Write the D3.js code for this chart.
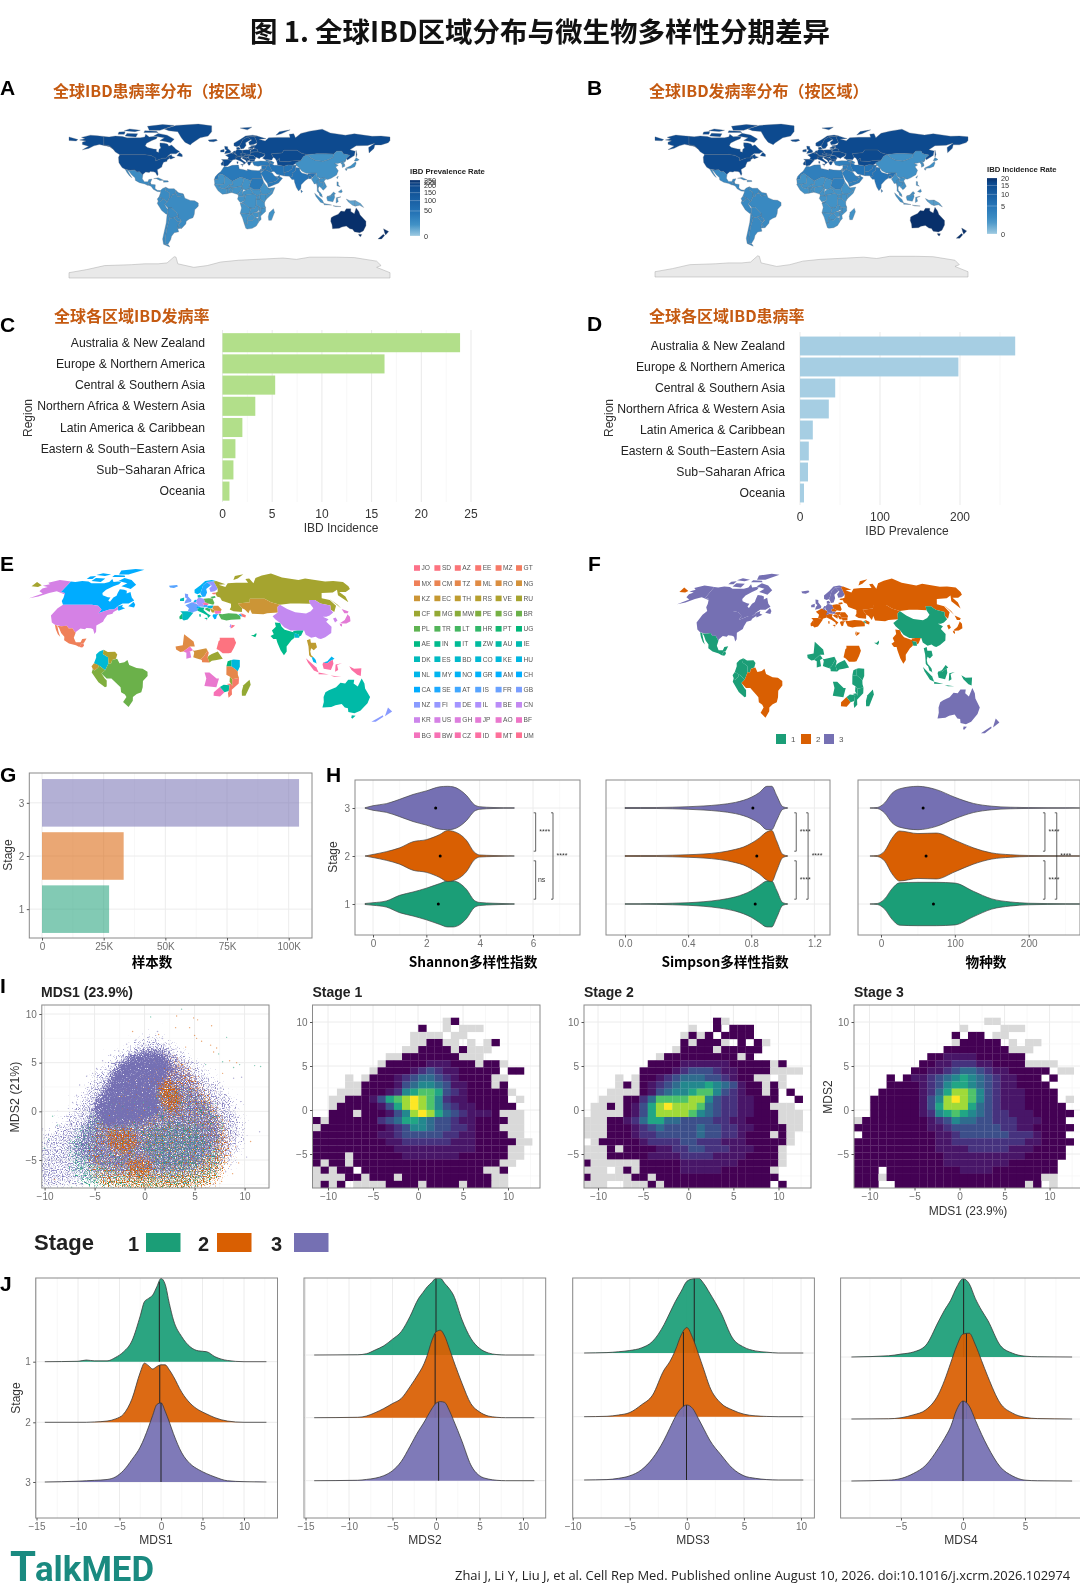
<!DOCTYPE html>
<html>
<head>
<meta charset="utf-8">
<script src="https://cdn.jsdelivr.net/npm/d3@7"></script>
<style>
  body { margin: 0; background: #fff; }
  text { font-family: "Liberation Sans", Arial, "Noto Sans CJK SC", sans-serif; }
</style>
</head>
<body>
<script>
// ---------- values ----------
var regionNames = ["Australia & New Zealand", "Europe & Northern America", "Central & Southern Asia",
  "Northern Africa & Western Asia", "Latin America & Caribbean", "Eastern & South\u2212Eastern Asia",
  "Sub\u2212Saharan Africa", "Oceania"];
var incidence = [23.9, 16.3, 5.3, 3.3, 2.0, 1.3, 1.1, 0.7];
var prevalence = [269, 198, 44, 36, 16, 11, 10, 5];
var prevalenceTicks = [0, 50, 100, 150, 200, 225, 250];
var incidenceTicks = [0, 5, 10, 15, 20];

var stageNames = ["1", "2", "3"];
var stageColors = ["#1b9e77", "#d95f02", "#7570b3"];
var sampleCounts = [27200, 33100, 104200];

// country outlines, [code, region index, [lon, lat]...]
var northAmerica = [
  ["CA",1,[[-141,69.6],[-135,69],[-128,70],[-120,69.5],[-115,68],[-108,68],[-100,68],[-95,69],[-94,72],[-90,69],[-85,69.5],[-81,69],[-82,67],[-87,65],[-93,62],[-94.5,59],[-92,57],[-85,55.3],[-82,55],[-82,52.5],[-79.5,51.5],[-79,55],[-77,56.5],[-78,59],[-78,62.3],[-73,62],[-69.5,61],[-68,58.5],[-65,60],[-62,57],[-60,55],[-56,52.5],[-60,50],[-66,50],[-70,47],[-65,49],[-64.5,47],[-61,46],[-66,44],[-67,45],[-69,47.3],[-71,45],[-75,45],[-79,43.5],[-83,42],[-82.5,45],[-88,48],[-95,49],[-123,49],[-128,52],[-130,54.7],[-135,59],[-141,60]]],
  ["CA",1,[[-80,73],[-70,71],[-62,66.5],[-66,62.5],[-72,64],[-78,65],[-73,68],[-85,70]]],
  ["CA",1,[[-117,70],[-105,69],[-103,72.5],[-115,73]]],
  ["CA",1,[[-90,76.5],[-78,76.5],[-62,82],[-75,83],[-92,81]]],
  ["CA",1,[[-125,72],[-118,72],[-117,75],[-124,74.5]]],
  ["CA",1,[[-96,74],[-80,74],[-82,75.5],[-95,76]]],
  ["CA",1,[[-118,76],[-106,75],[-100,76.5],[-112,78]]],
  ["CA",1,[[-59,47.7],[-53,46.7],[-53,49],[-56,51.5]]],
  ["US",1,[[-123,49],[-95,49],[-88,48],[-84,46],[-82.5,45],[-83,42],[-79,43.5],[-75,45],[-71,45],[-69,47.3],[-67,45],[-70,43],[-70,41.5],[-74,40.5],[-75.5,37],[-76,35],[-81,32],[-80,27],[-81,25.2],[-83,29],[-85,29.7],[-89,30],[-90,29],[-94,29.5],[-97,27],[-97.2,25.9],[-101,29.7],[-104,29.5],[-106.5,31.8],[-111,31.3],[-117,32.5],[-120.5,34.5],[-124,40],[-124.5,46]]],
  ["US",1,[[-141,69.6],[-141,60],[-135,59],[-130,55],[-134,58],[-146,60.5],[-152,59],[-158,56],[-165,54.5],[-158,58.5],[-165,60.5],[-165,63],[-161,64.5],[-168,65.5],[-162,67],[-166,68.5],[-156,71],[-148,70.3]]],
  ["GL",1,[[-73,78],[-60,82],[-35,83.5],[-20,81.5],[-20,75],[-24,70],[-33,68],[-42,62],[-44,60],[-50,63],[-54,68],[-58,75],[-68,76]]],
  ["MX",4,[[-114.7,31.7],[-111,31.3],[-106.5,31.8],[-104,29.5],[-101,29.7],[-97.2,25.9],[-97.8,22],[-95.5,18.5],[-91.5,18.5],[-90.5,21],[-87,21.5],[-88.5,18],[-90.5,17.5],[-92,14.6],[-95,16],[-101,17.5],[-105.5,20],[-106,23],[-109.5,26],[-112.5,30]]],
  ["MX",4,[[-117,32.5],[-114.7,31.7],[-112,27],[-109.5,23],[-112,25],[-115,29]]],
  ["GT",4,[[-92,14.6],[-90.5,17.5],[-89,17.8],[-88.2,15.7],[-89.5,14.2]]],
  ["",4,[[-89,17.8],[-88.2,15.7],[-83.2,15],[-83.5,11],[-81,8.9],[-77.5,8.5],[-78,7.3],[-81,7.5],[-85.5,10],[-87.5,13],[-89.5,14.2]]],
  ["",4,[[-85,22],[-80,23],[-74,20.2],[-78,20],[-82,22]]],
  ["",4,[[-74,19.8],[-69,19.5],[-68.5,18.3],[-74,18]]]
];
var southAmerica = [
  ["CO",4,[[-77.5,8.5],[-75,11],[-71.5,12.3],[-72,9],[-67.5,6.2],[-67,1.5],[-69.8,-4.2],[-74,-1],[-79,1.5],[-77.3,6]]],
  ["VE",4,[[-71.5,12.3],[-68,10.6],[-62,10.7],[-60,8.5],[-61,5],[-64,4],[-65,1],[-67,1.5],[-67.5,6.2],[-72,9]]],
  ["",4,[[-60,8.5],[-57,6],[-52,5],[-51.5,4],[-54,2.3],[-58,1.5],[-60,5],[-61,5]]],
  ["EC",4,[[-79,1.5],[-75.3,-0.1],[-75.5,-2],[-78.5,-4.5],[-80,-3.3],[-81,-1]]],
  ["PE",4,[[-80,-3.3],[-78.5,-4.5],[-75.5,-2],[-75.3,-0.1],[-74,-1],[-69.8,-4.2],[-73,-7],[-70.5,-11],[-69,-12.5],[-69.5,-17.5],[-71,-18],[-76,-14],[-81,-6]]],
  ["BR",4,[[-60,5],[-58,1.5],[-54,2.3],[-51.5,4],[-50,0],[-44,-2.5],[-39,-3],[-35,-5.5],[-35,-9],[-39,-13],[-39.5,-18],[-41,-22],[-45,-23.5],[-48.5,-26],[-49,-29],[-53.5,-34],[-57.5,-30],[-54,-26],[-55,-24],[-58,-22],[-58,-18],[-60,-16],[-65,-11],[-69,-11],[-73,-7],[-69.8,-4.2],[-67,1.5],[-65,1],[-64,4]]],
  ["",4,[[-69,-11],[-65,-11],[-60,-16],[-58,-18],[-58,-20],[-62.5,-22],[-67,-23],[-69.5,-18],[-69,-12.5]]],
  ["",4,[[-58,-20],[-58,-22],[-55,-24],[-54.5,-26],[-58,-27],[-62.5,-22]]],
  ["",4,[[-69.5,-17.5],[-67,-23],[-70,-33],[-72,-45],[-72,-52],[-68.5,-52.5],[-67,-55],[-74,-52],[-75,-46],[-73,-37],[-71,-28],[-70,-18]]],
  ["",4,[[-67,-23],[-62.5,-22],[-58,-27],[-54.5,-26],[-57.5,-30],[-58,-34.5],[-57,-38],[-62,-39],[-65,-43],[-66,-47],[-69,-52],[-72,-52],[-72,-45],[-70,-33]]],
  ["",4,[[-57.5,-30],[-53.5,-34],[-58,-34.5]]]
];
var africa = [
  ["",3,[[-17,21],[-16,24],[-13,27.5],[-9.7,30],[-6,35.8],[-2,35],[3,37],[10,37.3],[11,33],[15,32.3],[20,31],[20,32.5],[25,31.5],[32,31],[34.2,31.3],[34.9,29.5],[37,22],[25,22],[25,20],[24,19.5],[15,23],[12,23.5],[3,19],[-5,25],[-8.7,27.3],[-12,26],[-13,23],[-13,21]]],
  ["SD",3,[[25,22],[37,22],[38.5,18],[36.5,14],[34,10],[32,9.5],[27,9.5],[24,12],[22,13],[24,19.5],[25,20]]],
  ["",6,[[-17,21],[-13,21],[-13,23],[-12,26],[-8.7,27.3],[-5,25],[-6,16],[-12,15],[-16.5,16]]],
  ["ML",6,[[-12,15],[-6,16],[-5,25],[3,19],[4,15],[0,15],[-5.5,11],[-8,10.5],[-11.5,12.5]]],
  ["BF",6,[[-5.5,11],[0,15],[2.5,12],[0,11],[-3,10]]],
  ["GH",6,[[-3,11],[0,11],[1,6],[-3,5],[-3,7]]],
  ["",6,[[-17,15],[-16.5,16],[-12,15],[-11.5,12.5],[-8,10.5],[-5.5,11],[-3,10],[-3,5],[-8,4.5],[-13,8.5]]],
  ["",6,[[0,11],[2.5,12],[3.5,10],[2.7,6.3],[1,6]]],
  ["",6,[[4,15],[3,19],[12,23.5],[15,23],[16,20],[13.5,13.5],[3.5,11.5],[2.5,12],[0,15]]],
  ["NG",6,[[2.7,6.3],[3.5,10],[2.5,12],[3.5,11.5],[13.5,13.5],[14.5,11.5],[11,6.5],[8.5,4.5],[5,5.5]]],
  ["CM",6,[[8.5,4.5],[11,6.5],[14.5,11.5],[14,13],[15.5,10],[14.5,6],[16,2],[10,2.2],[9.7,4]]],
  ["",6,[[15,23],[24,19.5],[22,13],[24,12],[23,11],[18,9],[15.5,10],[14,13],[13.5,13.5],[16,20]]],
  ["CF",6,[[14.5,6],[15.5,7.5],[18,9],[23,11],[27,5],[22,4],[18,3.5],[16,2]]],
  ["",6,[[9,-1],[10,2.2],[16,2],[18,3.5],[17,-3],[12,-5]]],
  ["",6,[[18,3.5],[22,4],[27,5],[31,3],[30,-1],[30,-8],[28,-12],[22,-11],[16,-6],[12,-6],[17,-3]]],
  ["AO",6,[[12,-6],[16,-6],[22,-11],[24,-11],[22,-18],[12,-17],[13.5,-11]]],
  ["",6,[[12,-17],[22,-18],[25,-17.8],[20,-22],[20,-29],[16.5,-28.5],[14.5,-22]]],
  ["",6,[[24,-11],[28,-12],[30,-8],[33,-9.5],[32.8,-13.5],[30.5,-15.5],[28,-16],[25,-17.8],[22,-18]]],
  ["BW",6,[[20,-22],[25,-17.8],[29,-22],[25.5,-25.5],[20,-25]]],
  ["ZW",6,[[25,-17.8],[28,-16],[33,-16.5],[32.5,-21],[29,-22]]],
  ["",6,[[16.5,-28.5],[20,-29],[20,-25],[25.5,-25.5],[29,-22],[32,-23],[32.8,-27],[30,-31.5],[25.5,-34],[20,-34.8],[18.3,-34]]],
  ["MZ",6,[[35,-11.5],[40.5,-10.5],[40.5,-15],[35,-20],[35.5,-24],[32.8,-26.5],[32,-23],[32.5,-21],[33,-16.5],[30.5,-15.5],[34,-15],[35.3,-17],[35,-14.5]]],
  ["MW",6,[[33,-9.5],[35,-11.5],[35,-14.5],[35.3,-17],[34,-15],[32.8,-13.5]]],
  ["TZ",6,[[30,-1],[34,-1],[37.5,-3.5],[39.3,-5],[39.5,-8],[40.5,-10.5],[35,-11.5],[33,-9.5],[30,-8]]],
  ["KE",6,[[34,-1],[34,4],[36,4.5],[41,4],[41,-1.5],[39.3,-5],[37.5,-3.5]]],
  ["UG",6,[[30,-1],[31,3],[34,4],[34,-1]]],
  ["",6,[[27,9.5],[32,9.5],[34,10],[36,4.5],[34,4],[31,3],[27,5],[23,11],[24,12]]],
  ["",6,[[36.5,14],[38.5,18],[43,12],[48,8],[44,5],[41,4],[36,4.5],[34,10]]],
  ["",6,[[43,11],[51,12],[48,5],[41,-1.5],[41,4],[44,5],[48,8]]],
  ["MG",6,[[49.3,-12],[50.5,-16],[47,-25],[44,-25],[43.5,-21],[44.5,-16.5]]]
];
var europe = [
  ["ES",1,[[-9,43.5],[-2,43.5],[3,42.3],[0,39],[-2,36.8],[-5.5,36],[-7,37.2],[-7,42]]],
  ["PT",1,[[-7,42],[-7,37.2],[-9,37],[-9.5,39]]],
  ["FR",1,[[-4.5,48.5],[2,51],[8,49],[7,44],[3,43],[3,42.3],[-2,43.5],[-1,46]]],
  ["GB",1,[[-5.5,50],[1,51.2],[1.5,53],[-2,56],[-2,58],[-5.5,58.5],[-5,55],[-3,54],[-4.5,52.5]]],
  ["IE",1,[[-10,52],[-6,52],[-6,55],[-10,54]]],
  ["BE",1,[[2.5,51],[4,51.4],[6,50.5],[5,49.5]]],
  ["NL",1,[[3.5,51.4],[5,53.2],[7,53],[6,50.8]]],
  ["DE",1,[[6,50.5],[7,53.5],[9,55],[14,54],[15,51],[12.2,50],[13.5,48.7],[13,47.5],[7.5,47.6],[8,49]]],
  ["DK",1,[[8,55],[8,57],[10.5,57.5],[12.5,55.5],[10,55]]],
  ["CH",1,[[6,46.3],[7.5,47.6],[10,47.3],[10,46.3],[8,46]]],
  ["AT",1,[[10,47.3],[13,47.5],[13.5,48.7],[17,48.7],[16,46.8],[10,46.8]]],
  ["IT",1,[[7,44],[7,45.7],[8,46],[10,46.6],[13.5,46.5],[12.5,44.5],[16,41.5],[18.5,40],[16,38],[15.5,40],[12,42]]],
  ["IT",1,[[12.5,38],[15.5,38.2],[15,36.7]]],
  ["IT",1,[[8.2,41],[9.7,41],[9.5,39],[8.5,39]]],
  ["CZ",1,[[12.2,50],[15,51],[18.5,49.7],[17,48.7],[13.5,48.7]]],
  ["PL",1,[[14,54],[19,54.5],[23,54.3],[24,50.5],[22.5,49],[18.5,49.7],[15,51]]],
  ["HU",1,[[16,46.8],[17,48],[22.5,48.3],[21,46],[18.5,45.8]]],
  ["",1,[[17,48.7],[18.5,49.7],[22.5,49],[22.5,48.3],[17,48]]],
  ["HR",1,[[13.5,45.5],[16,46.5],[19,45.5],[18,43],[15,44.5]]],
  ["RS",1,[[19,46],[22.5,44.3],[22.5,42.5],[20,42.5],[19,44.5]]],
  ["",1,[[15.8,45],[19,45],[20.5,42],[19.5,40],[18,43]]],
  ["GR",1,[[20,39.7],[21,41],[26,41],[24,40],[23,37.5],[21.5,37]]],
  ["BG",1,[[22.5,44],[28.5,43.7],[28,42],[23,41.3]]],
  ["RO",1,[[21,46],[22.5,48],[27,48],[29.5,45],[28.5,43.7],[22.5,44]]],
  ["",1,[[22.5,48.3],[24,50.5],[24,51.8],[32,52.3],[40,49.8],[38,47],[35,46],[33.5,44.5],[30,46],[29.5,45.5],[27,48]]],
  ["",1,[[23.5,52],[24,54],[28,56],[31,55],[32,52.3]]],
  ["LT",1,[[21,55.5],[26,56.3],[26.5,55],[23,54.3]]],
  ["",1,[[21,56.5],[24,58],[28,57.5],[26,56.3]]],
  ["EE",1,[[23.5,59],[28,59.5],[27.5,57.8],[24.5,58]]],
  ["NO",1,[[5,59],[5,62],[12,66],[18,70],[26,71],[31,70],[28,69.5],[20,69],[15,66],[12.5,61],[11,59],[8,58]]],
  ["SE",1,[[11,59],[12.5,61],[15,66],[20,69],[24,66],[18,62.5],[18.5,59.5],[16,56],[13,55.5]]],
  ["FI",1,[[20,69],[28,69.5],[30,65],[31,62.5],[27,60.5],[22.5,60],[21.5,63],[25,65.5],[24,66]]],
  ["IS",1,[[-24,65.5],[-15,66.3],[-13.5,65],[-18,63.5],[-22.5,64]]],
  ["MT",1,[[14.1,36.1],[14.7,36.1],[14.5,35.7]]],
  ["RU",1,[[28,69.5],[31,70],[41,67],[33,66.5],[40,64.5],[44,68],[54,68.5],[68,68.5],[67,72],[72,72.5],[74,68],[80,73],[90,75.5],[104,77.7],[113,73.5],[130,71],[140,72.5],[160,69.7],[170,70],[180,69],[180,65],[178,62.5],[170,60],[163,60],[162,56],[156.5,51],[156,57],[163,62],[155,59.5],[142,59],[135,54.5],[141,53],[140,48],[132,43],[131,45],[135,48.3],[127.5,50],[126,53],[120,53],[117,49.7],[107,50],[98,50],[87,49],[80,51],[76,54],[61,54],[59,51],[47,50],[49,46],[47.5,43],[40,43.5],[37,45],[39,47],[40,49.8],[32,52.3],[31,55],[28,56],[27.5,57.8],[28,59.5],[30,60],[31,62.5],[30,65]]],
  ["RU",1,[[-180,65],[-172,64.5],[-170,66],[-180,69]]],
  ["RU",1,[[142,54],[143,49],[142,46],[142,50]]],
  ["RU",1,[[52,71],[56,75],[68,77],[58,72.5]]],
  ["",1,[[12,79],[25,80],[20,77]]]
];
var asia = [
  ["TR",3,[[26,40],[26,41.5],[29,41.2],[35,42],[42,41.5],[44.8,39.7],[44.5,37],[36,36.7],[32,36],[27.5,37]]],
  ["AM",3,[[43.5,41],[46,41],[46.5,39],[44.8,39.7]]],
  ["AZ",3,[[45,41.5],[47,41.8],[50,40.3],[49,38.5],[46.5,39],[46,41]]],
  ["",3,[[40,43.5],[46.5,41.8],[43.5,41],[41.5,41.5]]],
  ["KZ",1,[[47,50],[59,51],[61,54],[76,54],[80,51],[87,49],[83,47],[80,42.5],[70,42],[66,41],[56,41.5],[56,45],[53,42],[51,45],[49,46]]],
  ["",1,[[53,42],[56,45],[56,41.5],[66,41],[70,42],[80,42.5],[74,39],[71,37],[66,37.5],[61,36],[54,37.5]]],
  ["CN",5,[[73.5,39.5],[80,42.5],[83,47],[87,49],[91,45.5],[96,42.7],[105,41.7],[111,43.5],[116,46],[117,49.7],[120,53],[126,53],[127.5,50],[135,48.3],[131,45],[130.5,42.5],[124.5,40],[121,39],[118,39],[122,37],[119,35],[122,31],[120,26],[114,22.5],[110,21],[108,21.5],[106,23],[102,22],[98,24.5],[97.5,28],[92,28],[86,28],[81,30.5],[78.5,34],[75,37]]],
  ["",5,[[120,23],[122,25],[121,22]]],
  ["",5,[[87,49],[98,50],[107,50],[117,49.7],[116,46],[111,43.5],[105,41.7],[96,42.7],[91,45.5]]],
  ["KR",5,[[126.3,37.6],[129,38.4],[129.4,36],[126.5,34.5]]],
  ["",5,[[124.5,40],[130.5,42.5],[129.7,41],[127.5,39.5],[129,38.4],[126.3,37.6]]],
  ["JP",5,[[130.8,34],[136,36.5],[140,40],[141.5,41],[142,39],[140.5,35.5],[136,33.7],[132,33.5]]],
  ["JP",5,[[140,42],[142,45.5],[145.5,43.3],[143,42]]],
  ["JP",5,[[130,33.5],[132,33],[131,31],[130,32]]],
  ["IN",2,[[68,23.5],[71,25],[70,28],[74,31],[74,34.5],[78.5,34],[79,31],[81,28.5],[88,26.5],[88,27.5],[92,28],[97,28],[94,24],[92,23],[92,25],[89,25.5],[88,22],[85,20],[80.3,15],[80,11],[77.5,8],[75,12],[73,18],[72.5,21],[70,21]]],
  ["",2,[[61,29],[61.5,25],[67,24.8],[68,23.5],[71,25],[70,28],[74,31],[74,34.5],[75,37],[71,36],[70,33],[66,30]]],
  ["",2,[[61,36],[66,37.5],[71,37],[75,37],[71,36],[70,33],[66,30],[61,29]]],
  ["BD",2,[[88,26],[89,25.5],[92,25],[92,22],[90,22],[88.5,22]]],
  ["",2,[[80,9.5],[82,7.5],[80.5,6]]],
  ["",5,[[92,21],[94,24],[97,28],[98,24.5],[101,21.5],[98.5,16],[99,11],[97.5,16.5],[95,16],[94,18]]],
  ["TH",5,[[98,20],[101,21],[101,18],[105,18],[105.5,14.5],[102.5,12],[100.5,13.5],[99.5,11],[100,8],[102,6],[99.5,6.5],[98.3,8],[98.5,15]]],
  ["",5,[[101,21.5],[102,22],[106,23],[108,21.5],[106,19],[109,13],[107,10.5],[105,9],[102.5,12],[105.5,14.5],[105,18],[101,18]]],
  ["MY",5,[[100.2,6.5],[102,6],[103.5,4],[104,1.5],[101.5,2.5]]],
  ["MY",5,[[109.6,2],[113,3],[116.7,7],[119,5],[117.5,4.2],[115,3],[113,1.5]]],
  ["ID",5,[[109,0.5],[109.6,2],[113,1.5],[115,3],[117.5,4.2],[118,1],[116,-4],[110,-3]]],
  ["ID",5,[[95.5,5.5],[104,-2],[106,-6],[102,-4.5],[97,2]]],
  ["ID",5,[[106,-6],[114.5,-7.8],[106,-7.5]]],
  ["ID",5,[[119.5,-5.5],[119.8,0.5],[125,1.5],[121,0],[122,-4]]],
  ["ID",7,[[131,-1],[135,-3],[141,-2.7],[141,-9],[138,-8],[133,-4]]],
  ["ID",5,[[116,-8.5],[125,-9.5],[119,-9.5]]],
  ["",7,[[141,-2.7],[147,-6],[150.5,-10.5],[146,-8],[141,-9]]],
  ["",5,[[120.5,18.5],[122,18],[122,15],[124,13],[120.5,14]]],
  ["",5,[[122,7],[125.5,9.7],[126.5,7],[125,6]]],
  ["SG",5,[[103.6,1.5],[104.2,1.5],[104,1.1]]],
  ["",3,[[35,28],[37,30],[39,32],[42,31.5],[46.5,29],[48,28.5],[50,25.5],[51.5,24.5],[55,22],[52,19],[48,18],[44,17],[42.5,16.5],[39,21],[37,25]]],
  ["",3,[[42.5,16.5],[44,17],[48,18],[52,19],[55,22],[56,24.5],[59.5,22.5],[55,17],[45,13],[43.5,12.7]]],
  ["AE",3,[[51.5,24.2],[54,24.3],[56.3,26],[56.3,24.5],[55,22.5]]],
  ["JO",3,[[35,29.5],[36,32.5],[39,32],[37,30.5]]],
  ["IL",3,[[34.3,31.3],[35,33],[35.7,33],[35,29.5]]],
  ["",3,[[36,32.5],[36,36.7],[42,37],[41,34.5],[39,32]]],
  ["",3,[[39,32],[41,34.5],[42,37],[44.5,37],[46,34],[48,30],[46.5,29],[42,31.5]]],
  ["",2,[[44.8,39.7],[48,38.5],[50,37],[54,37],[61,36],[61,29],[61.5,25],[57,26],[53,27],[50,30],[48,30],[46,34],[44.5,37]]]
];
var oceania = [
  ["AU",0,[[114,-22],[116.5,-20.5],[122,-18],[125,-14.5],[129,-15],[131,-12],[136,-12],[136,-15],[140,-17.5],[142,-11],[145,-15],[146.5,-19],[153,-26],[153,-31],[150,-37],[146,-39],[140,-38],[138,-35],[135,-34.5],[131,-31.5],[126,-32.5],[123,-34],[115.5,-34.5],[115,-30],[113.5,-26]]],
  ["AU",0,[[144.7,-40.7],[148.3,-41],[147,-43.5],[145.5,-42.5]]],
  ["NZ",0,[[172.7,-34.5],[178.5,-37.7],[175,-41.5],[174,-39]]],
  ["NZ",0,[[172.5,-40.7],[174,-42],[170.5,-46],[166.5,-46],[170,-43]]]
];
var antarctica = [[-180,-90],[-180,-84],[-160,-80.5],[-140,-76],[-110,-75],[-95,-74],[-80,-74],[-70,-73],[-62,-66],[-60,-66.5],[-58,-74],[-40,-78],[-25,-76],[-10,-72],[10,-70],[40,-68.5],[60,-67.5],[75,-69],[90,-66.5],[120,-66.5],[140,-67],[165,-71],[170,-76],[165,-78],[180,-84],[180,-90]];

var countryLegend = ["JO","SD","AZ","EE","MZ","GT","MX","CM","TZ","ML","RO","NG","KZ","EC","TH","RS","VE","RU",
  "CF","MG","MW","PE","SG","BR","PL","TR","LT","HR","PT","UG","AE","IN","IT","ZW","AU","IE","DK","ES","BD","CO",
  "KE","HU","NL","MY","NO","GR","AM","CH","CA","SE","AT","IS","FR","GB","NZ","FI","DE","IL","BE","CN","KR","US",
  "GH","JP","AO","BF","BG","BW","CZ","ID","MT","UM"];
var stage1Countries = ["MX","GT","CO","VE","EC","PE","CN","TH","MY","ID","SG","ML","BF","GH","NG","CM","CF","TZ","MW","KE","UG","AO","ZW","MZ","MG","BD","AE","AM"];
var stage2Countries = ["RU","KZ","BR","IN","ES","PT","FR","IT","PL","TR","SD","JO","BW","JP","KR","RO","RS","BG","GR","HR","HU","CZ","LT","EE","AZ","IL","MT"];
var stage3Countries = ["CA","US","AU","NZ","GB","IE","NL","BE","DE","DK","NO","SE","FI","IS","CH","AT"];

// violin profiles
var shannonGrid = [-0.3,0,0.5,1,1.5,2,2.5,2.8,3,3.5,3.8,4,4.5,5.3];
var shannon3 = [0.01,0.09,0.17,0.34,0.53,0.67,0.83,0.85,0.83,0.5,0.13,0.05,0.02,0.005];
var shannon2 = [0,0.06,0.17,0.32,0.56,0.64,0.84,1,0.97,0.62,0.15,0.04,0.02,0];
var shannon1 = [0.02,0.05,0.12,0.34,0.47,0.62,0.8,0.9,0.9,0.58,0.14,0.06,0.03,0.005];
var simpsonGrid = [0,0.1,0.2,0.3,0.4,0.5,0.6,0.7,0.75,0.8,0.85,0.9,0.93,0.96,1,1.03];
var simpson3 = [0.02,0.02,0.02,0.03,0.05,0.08,0.13,0.22,0.3,0.42,0.6,0.85,0.85,0.5,0.05,0.01];
var simpson2 = [0.015,0.02,0.02,0.03,0.05,0.08,0.14,0.26,0.35,0.5,0.7,0.95,1,0.6,0.06,0.01];
var simpson1 = [0.01,0.01,0.015,0.03,0.05,0.09,0.16,0.28,0.38,0.52,0.72,0.9,0.9,0.55,0.05,0.01];
var richGrid = [-15,-5,5,15,25,50,75,100,125,150,175,200,250,300];
var rich3 = [0,0.02,0.2,0.58,0.75,0.85,0.72,0.42,0.18,0.07,0.03,0.015,0.005,0.002];
var rich2 = [0,0.02,0.2,0.7,0.98,0.88,0.9,0.62,0.32,0.12,0.05,0.02,0.01,0.005];
var rich1 = [0,0.02,0.2,0.6,0.83,0.85,0.85,0.82,0.5,0.2,0.08,0.03,0.01,0.005];
var shannonMedians = [2.45,2.52,2.35];
var simpsonMedians = [0.825,0.835,0.81];
var richMedians = [71,61,57];

// 2D bin levels: "." empty, "g" grey (very few samples), 0-9 viridis level
var binStage1 = [
"................g0..........",
".............0..g.ggg.......",
"............gggg.gg.........",
"............gg00gg.g.g0.....",
"...........gg0000g0ggg......",
".........gg0000000ggg.......",
"........g00000111000g00g....",
".......g000012321100000.00..",
"....g.g000123443210000gg....",
"....gg0000134554311000g0....",
"...ggg000125677632100000g...",
"..gg00013678987521100000.g..",
"..g0000013689875321100000...",
"..000g00013589864321110ggg..",
"0g0000002346654332110000gg..",
"g0000000012355433221000ggg..",
"000000001123333322110000gg..",
"0000000001122222211100000gg.",
"000000000011111111110000gg..",
"0000g0000001111111000000gg..",
"0g00g000000000000000000gg...",
"g0g00.000000000000000gg0....",
"gggg00g000g00000000000gg....",
"g0g0.gggg0000g0000g000gg...."];
var binStage2 = [
"................0g..........",
".............g..0.000.......",
"............g0g0.0000.......",
"............0g000g.0.0g.....",
"...........g0000g00000......",
".........g000000000g0.......",
"........000011111100000g0...",
".......0000123332110000gggg.",
"....g.g00123444332100gg.g...",
"....g0g012345556543100g0g...",
"...gggg013455677532100g0.0..",
"..ggg0024777788532211000..0.",
".gg0g013689888743221100ggg..",
".gggg0136888875432211000ggg.",
"ggg001246644333322110000ggg.",
"ggg0001234333343322110000gg.",
"ggg00012233333433221000g0g..",
".g00000122223322211100000g..",
"ggg0g0000112233222111000g...",
"ggg000001111222211110000g...",
"0gggggg00000111111100000g...",
"ggg.g0g0000011111000000g....",
"0ggggg00g000000000000000....",
"ggg..ggg0g0000000000000.0..."];
var binStage3 = [
"................gg..........",
".............g....ggg.......",
"............0.00.gg.........",
"............g00000.g.gg.....",
"...........00000000ggg......",
".........001111000000.......",
"........0011222110000gggg...",
".......00112344321100000.gg.",
"....0.01123456543211000.0...",
"....00001235665432110000....",
"...0000012468875321110000...",
"..00000013589875321110000.g.",
"..000000136888643211100000..",
"..0000001256765432211100000.",
"g0000000012354433222111000..",
"000000000112333333221100000.",
".0000000001123333332221000..",
"000000000011222222222110000.",
"00000000001111222221110000..",
"00000000000111111111100000..",
"0000000000011111111000000...",
"000.000000000111100000000...",
"000g0000000000000000000gg...",
"000..0000000000000000g0.g..."];

// scatter cloud outlines and the stray samples that can be told apart
var cloudHalo = [[-11,-8],[-11,-3],[-9,-1.5],[-7,1],[-5.5,3.5],[-3.5,5.5],[-1.5,7],[1,8],[3,7],[5,5.5],[7,3.5],[9,1.5],[10,-1],[9.8,-4],[8,-6],[5,-7.5],[-4,-7.5]];
var cloudMid = [[-7.5,-4],[-6.5,-1.5],[-5.2,1.2],[-3.5,3.8],[-2,5.7],[0,6.7],[2.5,6.4],[4.3,4.4],[5.8,2.2],[7.5,0],[8,-2.5],[6.8,-4.8],[4.5,-6.2],[-3,-6.5],[-6,-5.5]];
var cloudCore = [[-5.2,0],[-4.2,2.5],[-2.7,5],[-0.5,6.2],[1.8,6.2],[2.8,4],[1.4,2],[1.8,0],[0,-1.2],[-2,-1.6],[-4.2,-1.6]];
var cloudTealBase = [[-7,-7.2],[-7.5,-3],[-4,1],[0,3],[4,3],[7.5,0],[8.2,-3],[6.8,-7.5]];
var cloudOrangeBase = [[-5,-7.6],[-5.5,-2],[-3,1.5],[0,5],[3,5.8],[6,2.8],[8.6,-2],[8.6,-5],[7,-7.8]];
var cloudTeal = [[0.5,-1.5],[4,-1],[6.5,-2.5],[5.5,-5.8],[2,-6.2],[-0.5,-3.5]];
var cloudOrangeA = [[1,3.8],[3,3.2],[4,1],[3,-0.5],[1.5,0.5]];
var cloudOrangeB = [[-3.8,-1.5],[-1,-2],[-0.5,-4],[-2.5,-4.8],[-4.2,-3]];
var cloudOrangeC = [[-2,-4.8],[1,-5],[0.5,-7],[-1.5,-7]];
var purpleDots = [[-10,-6.5],[-9.5,-5.5],[-9.8,-3.4],[-9,-4],[-8.5,-1.5],[-8.2,-6.7],[-7.8,-0.5],[-7.6,-7.2],[-7.2,0.9],[-6.8,1.6],[-6.5,2.7],[-6.2,-7.5],[-5.8,3.6],[-5.2,3.9],[-4.8,4.4],[-4.2,5.2],[-3.4,5.8],[-2.6,6.2],[-1.8,6.9],[-0.9,7.3],[0.4,7.6],[1.3,8.2],[1.8,7.5],[1.9,6.9],[3.6,6.1],[4.4,5.1],[6.2,3.4],[7.6,2.4],[8.1,1.7],[8.9,3.4],[9.7,3.5],[9.6,1],[8.9,-0.4],[9.8,-1.9],[9.2,-2.4],[11.5,-2.1],[10.2,-4.7],[8.6,-5.5],[8.1,-6.2],[7.4,-6.9],[6.9,-7.5],[-10.2,-1.8],[-9.2,-2.6],[-8,-3],[-7.3,-1.3],[-8.8,-7.5]];
var orangeDots = [[3.2,9.8],[4.9,9.6],[5.3,9.4],[3.1,8.6],[4.5,8.6],[6.7,8.8],[5,7.8],[5.2,7.5],[5.7,7.2],[6.6,6.8],[7.2,6.5],[6.9,6.1],[8.5,5.2],[9.2,5],[4.1,6.6],[1.4,7.9],[-1.2,8.2],[7.8,3.9],[10.6,-3.1],[9.4,-5.3],[8.8,-6.4],[7.7,-7.2],[9.1,-3.6],[8,-5.1],[7.6,-4.3],[-9,-7],[6,-7.6],[3.8,-7.7],[5.5,-7.2],[2.4,-7.5],[1.6,-7.8],[-0.6,-7.2]];
var tealDots = [[3.7,10.5],[0.6,9.7],[8.2,7.6],[6.1,4.8],[7.8,5.1],[9.5,4.8],[8.9,4.5],[11.6,4.6],[11,4.7],[7.4,5.9],[-10,-3.8],[-9.6,-2.9],[-8.7,-1.4],[-9.2,-0.5],[-7.3,-7.8],[-5.6,-7.5],[3.1,-7.3],[4.2,-7.6],[7.2,-6.4],[6.5,-6.9]];

// MDS ridge profiles
var mds1Grid = [-14,-10,-9,-8,-6.5,-5.5,-4.5,-3.5,-2.5,-2,-1.5,-1,-0.5,0,0.5,1,1.5,2.5,3.5,4.5,5.5,6.5,8,10,12.7];
var mds1S1 = [0,0.005,0.02,0.01,0.01,0.05,0.12,0.25,0.55,0.72,0.76,0.8,0.9,1,0.93,0.7,0.5,0.3,0.18,0.13,0.12,0.06,0.015,0,0];
var mds1S2 = [0,0,0,0.004,0.015,0.04,0.1,0.28,0.6,0.71,0.68,0.64,0.67,0.69,0.69,0.63,0.55,0.36,0.23,0.15,0.1,0.055,0.015,0,0];
var mds1S3 = [0,0.01,0.015,0.02,0.03,0.06,0.14,0.27,0.42,0.53,0.66,0.8,0.93,0.95,0.85,0.72,0.58,0.35,0.22,0.15,0.1,0.06,0.015,0.004,0];
var mds2Grid = [-14,-9,-8,-7,-6,-5,-4,-3,-2,-1.5,-1,-0.5,0,0.5,1,1.5,2,3,4,5,6,7,8,11.3];
var mds2S1 = [0,0.003,0.015,0.06,0.11,0.19,0.28,0.46,0.68,0.75,0.82,0.87,0.92,0.92,0.86,0.8,0.72,0.42,0.2,0.08,0.025,0.005,0,0];
var mds2S2 = [0,0.005,0.02,0.06,0.11,0.17,0.23,0.37,0.53,0.62,0.75,0.92,1.03,1.05,0.98,0.84,0.69,0.41,0.17,0.07,0.02,0.005,0,0];
var mds2S3 = [0,0.005,0.015,0.03,0.06,0.12,0.23,0.41,0.6,0.68,0.77,0.86,0.93,0.95,0.94,0.85,0.73,0.47,0.19,0.06,0.02,0.005,0,0];
var mds3Grid = [-9,-7,-6,-5,-4,-3,-2,-1.5,-1,-0.5,0,0.5,1,1.5,2,3,4,5,6,7,8,10.2];
var mds3S1 = [0,0.005,0.015,0.03,0.06,0.14,0.34,0.48,0.62,0.74,0.86,0.89,0.9,0.83,0.72,0.48,0.18,0.07,0.025,0.01,0,0];
var mds3S2 = [0,0.005,0.02,0.05,0.14,0.26,0.56,0.66,0.8,0.98,1.07,0.95,0.76,0.56,0.36,0.16,0.08,0.03,0.01,0.003,0,0];
var mds3S3 = [0,0.005,0.02,0.05,0.12,0.26,0.48,0.62,0.76,0.86,0.9,0.86,0.74,0.61,0.48,0.3,0.14,0.05,0.02,0.005,0,0];
var mds4Grid = [-9,-6,-5,-4,-3,-2,-1.5,-1,-0.5,0,0.5,1,1.5,2,3,4,5,6,8.8];
var mds4S1 = [0,0.015,0.035,0.06,0.14,0.42,0.56,0.68,0.84,0.94,0.88,0.7,0.56,0.44,0.14,0.045,0.01,0.003,0];
var mds4S2 = [0,0.003,0.015,0.05,0.11,0.29,0.46,0.67,0.88,1.02,1.03,0.89,0.7,0.51,0.19,0.07,0.02,0.005,0];
var mds4S3 = [0,0.01,0.03,0.09,0.19,0.39,0.51,0.65,0.86,0.96,0.9,0.73,0.56,0.41,0.17,0.06,0.01,0.003,0];

// ---------- page ----------
var svg = d3.select("body").append("svg")
  .attr("width", 1080).attr("height", 1590)
  .style("display", "block").style("background", "#fff")
  .style("filter", "blur(0.4px)");
var cjk = '"Noto Sans CJK SC", "Liberation Sans", sans-serif';
var titleOrange = "#c55a11";

function label(x, y, s, size, opts) {
  opts = opts || {};
  var t = svg.append("text").attr("x", x).attr("y", y).text(s)
    .attr("font-size", size)
    .attr("font-weight", opts.bold ? 700 : 400)
    .attr("fill", opts.fill || "#000")
    .attr("text-anchor", opts.anchor || "start");
  if (opts.font) t.style("font-family", opts.font);
  if (opts.rotate) t.attr("transform", "rotate(-90," + x + "," + y + ")");
  return t;
}

label(540, 42, "图 1. 全球IBD区域分布与微生物多样性分期差异", 27.5, {bold: true, anchor: "middle", font: cjk, fill: "#111"});
[["A",0,95],["B",587,95],["C",0,332],["D",587,331],["E",0,571],["F",588,571],["G",0,782],["H",326,782],["I",0,993],["J",0,1291]]
  .forEach(function (d) { label(d[1], d[2], d[0], 21, {bold: true}); });
label(53, 97, "全球IBD患病率分布（按区域）", 16, {bold: true, fill: titleOrange, font: cjk});
label(649, 97, "全球IBD发病率分布（按区域）", 16, {bold: true, fill: titleOrange, font: cjk});
label(54, 322, "全球各区域IBD发病率", 16, {bold: true, fill: titleOrange, font: cjk});
label(649, 322, "全球各区域IBD患病率", 16, {bold: true, fill: titleOrange, font: cjk});

var allShapes = northAmerica.concat(southAmerica, africa, europe, asia, oceania);

// ---------- A, B choropleths ----------
function drawChoropleth(left, right, top, bottom, values, color) {
  var x = d3.scaleLinear().domain([-180, 180]).range([left, right]);
  var y = d3.scaleLinear().domain([-90, 83.6]).range([bottom, top]);
  var line = d3.line().x(function (d) { return x(d[0]); }).y(function (d) { return y(d[1]); });
  var g = svg.append("g");
  g.selectAll("path.land").data(allShapes).join("path")
    .attr("d", function (d) { return line(d[2]) + "Z"; })
    .attr("fill", function (d) { return color(values[d[1]]); })
    .attr("stroke", "#5b6b7c").attr("stroke-width", 0.3);
  g.append("path").attr("d", line(antarctica) + "Z")
    .attr("fill", "#e9e9e9").attr("stroke", "#a8a8a8").attr("stroke-width", 0.5);
}
function drawColorbar(x, top, bottom, title, ticks, color) {
  var scale = d3.scaleSqrt().domain(d3.extent(ticks)).range([bottom, top]);
  var defsId = "bar" + x;
  var grad = svg.append("defs").append("linearGradient").attr("id", defsId)
    .attr("x1", 0).attr("x2", 0).attr("y1", 1).attr("y2", 0);
  d3.range(0, 1.001, 0.1).forEach(function (t) {
    grad.append("stop").attr("offset", t)
      .attr("stop-color", color(scale.invert(bottom + (top - bottom) * t)));
  });
  svg.append("rect").attr("x", x).attr("y", top).attr("width", 10).attr("height", bottom - top)
    .attr("fill", "url(#" + defsId + ")");
  ticks.forEach(function (t) {
    svg.append("line").attr("x1", x).attr("x2", x + 10).attr("y1", scale(t)).attr("y2", scale(t))
      .attr("stroke", "#ffffff").attr("stroke-opacity", 0.5).attr("stroke-width", 0.5);
    label(x + 14, scale(t) + 2.5, t, 7.3, {fill: "#333"});
  });
  label(x, top - 6, title, 7.7, {bold: true, fill: "#222"});
}
var prevColor = d3.scaleSqrt().domain([0, 10, 44, 198, 250])
  .range(["#9ecae1", "#4292c6", "#2473b6", "#0d4a8f", "#08306b"]).clamp(true);
var incColor = d3.scaleSqrt().domain([0, 1.1, 5.3, 16.3, 20])
  .range(["#9ecae1", "#4292c6", "#2473b6", "#0d4a8f", "#08306b"]).clamp(true);
drawChoropleth(69, 390, 124, 278, prevalence, prevColor);
drawChoropleth(655, 968, 124, 277, incidence, incColor);
drawColorbar(410, 180, 236, "IBD Prevalence Rate", prevalenceTicks, prevColor);
drawColorbar(987, 178, 234, "IBD Incidence Rate", incidenceTicks, incColor);

// ---------- C, D bars ----------
function drawRegionBars(x0, x1, maxVal, ticks, minor, values, fill, firstY, step, frameTop, frameBottom, axisName, regionX, nameGap, axisX) {
  var x = d3.scaleLinear().domain([0, maxVal]).range([x0, x1]);
  var y = d3.scaleBand().domain(regionNames).range([firstY - step / 2, firstY + step * 7.5]).paddingInner(0.1).paddingOuter(0.05);
  var g = svg.append("g");
  minor.forEach(function (t) {
    g.append("line").attr("x1", x(t)).attr("x2", x(t)).attr("y1", frameTop).attr("y2", frameBottom).attr("stroke", "#f4f4f4").attr("stroke-width", 0.7);
  });
  ticks.forEach(function (t) {
    g.append("line").attr("x1", x(t)).attr("x2", x(t)).attr("y1", frameTop).attr("y2", frameBottom).attr("stroke", "#e6e6e6").attr("stroke-width", 0.9);
    label(x(t), frameBottom + 16, t, 12, {anchor: "middle", fill: "#333"});
  });
  g.selectAll("rect").data(values).join("rect")
    .attr("x", x(0)).attr("y", function (d, i) { return y(regionNames[i]); })
    .attr("height", y.bandwidth()).attr("width", function (d) { return x(d) - x(0); })
    .attr("fill", fill);
  regionNames.forEach(function (n) {
    label(x0 - nameGap, y(n) + y.bandwidth() / 2 + 4, n, 12.2, {anchor: "end", fill: "#222"});
  });
  label(axisX, frameBottom + 30, axisName, 12, {anchor: "middle", fill: "#333"});
  label(regionX, 418, "Region", 12, {anchor: "middle", rotate: true, fill: "#333"});
}
drawRegionBars(222.5, 471, 25, [0,5,10,15,20,25], [2.5,7.5,12.5,17.5,22.5], incidence, "#b2df8a", 342.7, 21.2, 330, 502, "IBD Incidence", 32, 17.5, 341);
drawRegionBars(800, 960, 200, [0,100,200], [50,150,250], prevalence, "#a6cee3", 346, 21, 332, 505, "IBD Prevalence", 613, 15, 907);

// ---------- E, F country maps ----------
var highLatSqueeze = d3.scaleLinear().domain([40, 60]).range([1, 0.92]).clamp(true);
function drawCountryMap(cx, sx, y0, sy, fillOf, opacity) {
  var x = d3.scaleLinear().domain([-1, 1]).range([cx - sx, cx + sx]);
  var y = d3.scaleLinear().domain([-1, 1]).range([y0 + sy, y0 - sy]);
  var raw = d3.geoNaturalEarth1Raw;
  var line = d3.line()
    .x(function (d) { return x(raw(d[0] * Math.PI / 180, d[1] * Math.PI / 180)[0] * highLatSqueeze(d[1])); })
    .y(function (d) { return y(raw(d[0] * Math.PI / 180, d[1] * Math.PI / 180)[1]); });
  svg.append("g").selectAll("path")
    .data(allShapes.filter(function (d) { return fillOf(d[0]); }))
    .join("path")
    .attr("d", function (d) { return line(d[2]) + "Z"; })
    .attr("fill", function (d) { return fillOf(d[0]); })
    .attr("fill-opacity", opacity);
}
var hueOf = function (i) { return d3.hcl(15 + 360 * i / countryLegend.length, 58, 66).formatHex(); };
drawCountryMap(190, 80, 665, 70, function (code) {
  var i = countryLegend.indexOf(code);
  return i < 0 ? null : hueOf(i);
}, 1);
countryLegend.forEach(function (code, i) {
  var col = i % 6, row = Math.floor(i / 6);
  var px = 414 + col * 20.4, py = 568 + row * 15.2;
  svg.append("rect").attr("x", px).attr("y", py - 2.8).attr("width", 6).attr("height", 5.6)
    .attr("fill", hueOf(i));
  label(px + 7.5, py + 2.4, code, 6.6, {fill: "#555"});
});
drawCountryMap(820, 71, 674, 73, function (code) {
  if (stage1Countries.indexOf(code) >= 0) return stageColors[0];
  if (stage2Countries.indexOf(code) >= 0) return stageColors[1];
  if (stage3Countries.indexOf(code) >= 0) return stageColors[2];
  return null;
}, 1);
stageNames.forEach(function (s, i) {
  var px = [776, 801, 824][i];
  svg.append("rect").attr("x", px).attr("y", 734).attr("width", 10).attr("height", 10).attr("fill", stageColors[i]);
  label(px + 15, 742, s, 8, {fill: "#555"});
});

// ---------- shared panel helpers ----------
var gridColor = "#ececec", frameColor = "#8a8a8a", tickText = "#6f6f6f";
function panel(left, top, right, bottom) {
  var g = svg.append("g");
  g.frame = function () {
    svg.append("rect").attr("x", left).attr("y", top).attr("width", right - left).attr("height", bottom - top)
      .attr("fill", "none").attr("stroke", frameColor).attr("stroke-width", 1);
  };
  g.vgrid = function (xs, xScale, color, w) {
    xs.forEach(function (t) {
      g.append("line").attr("x1", xScale(t)).attr("x2", xScale(t)).attr("y1", top).attr("y2", bottom)
        .attr("stroke", color).attr("stroke-width", w);
    });
  };
  g.hgrid = function (ys, yScale, color, w) {
    ys.forEach(function (t) {
      g.append("line").attr("y1", yScale(t)).attr("y2", yScale(t)).attr("x1", left).attr("x2", right)
        .attr("stroke", color).attr("stroke-width", w);
    });
  };
  return g;
}
function bottomAxis(scale, y, ticks, fmt, size) {
  var ax = svg.append("g").attr("transform", "translate(0," + y + ")")
    .call(d3.axisBottom(scale).tickValues(ticks).tickSize(2.5).tickPadding(2.5).tickFormat(fmt || function (d) { return String(d).replace("-", "\u2212"); }));
  ax.select(".domain").remove();
  ax.selectAll("line").attr("stroke", "#555");
  ax.selectAll("text").attr("fill", tickText).attr("font-size", size || 10);
  ax.attr("font-family", null);
}
function leftAxis(scale, x, ticks, size) {
  var ax = svg.append("g").attr("transform", "translate(" + x + ",0)")
    .call(d3.axisLeft(scale).tickValues(ticks).tickSize(2.5).tickPadding(2.5).tickFormat(function (d) { return String(d).replace("-", "\u2212"); }));
  ax.select(".domain").remove();
  ax.selectAll("line").attr("stroke", "#555");
  ax.selectAll("text").attr("fill", tickText).attr("font-size", size || 10);
  ax.attr("font-family", null);
}

// ---------- G ----------
(function () {
  var x = d3.scaleLinear().domain([0, 100000]).range([42, 288.7]);
  var y = d3.scaleBand().domain(["3","2","1"]).range([778, 934]).paddingInner(0.105).paddingOuter(0.02);
  var p = panel(29.3, 773, 312, 938);
  p.vgrid([12500,37500,62500,87500], x, "#f5f5f5", 0.7);
  p.vgrid([0,25000,50000,75000,100000], x, gridColor, 1);
  p.hgrid(["3","2","1"], function (s) { return y(s) + y.bandwidth() / 2; }, gridColor, 1);
  stageNames.forEach(function (s, i) {
    p.append("rect").attr("x", x(0)).attr("y", y(s)).attr("height", y.bandwidth())
      .attr("width", x(sampleCounts[i]) - x(0)).attr("fill", stageColors[i]).attr("fill-opacity", 0.55);
  });
  p.frame();
  bottomAxis(x, 938, [0,25000,50000,75000,100000], function (d) { return d === 0 ? "0" : (d / 1000) + "K"; });
  var yc = d3.scalePoint().domain(["3","2","1"]).range([y("3") + y.bandwidth() / 2, y("1") + y.bandwidth() / 2]);
  leftAxis(yc, 29.3, ["3","2","1"]);
  label(152, 967, "样本数", 13.5, {anchor: "middle", bold: true, font: cjk});
  label(12, 855, "Stage", 12, {anchor: "middle", rotate: true, fill: "#333"});
})();

// ---------- H violins ----------
var stageY = d3.scaleLinear().domain([1, 3]).range([904, 808]);
var violinHalf = d3.scaleLinear().domain([0, 1]).range([0, 25.5]);
function drawViolins(left, right, domain, range, gridVals, minorVals, tickVals, grid, series, medians, brackets, title, titleX, clipId) {
  var x = d3.scaleLinear().domain(domain).range(range);
  var p = panel(left, 780, right, 935);
  p.vgrid(minorVals, x, "#f6f6f6", 0.7);
  p.vgrid(gridVals, x, gridColor, 1);
  p.hgrid([1, 2, 3], stageY, gridColor, 1);
  svg.append("clipPath").attr("id", clipId).append("rect").attr("x", left).attr("y", 780).attr("width", right - left).attr("height", 155);
  var inner = p.append("g").attr("clip-path", "url(#" + clipId + ")");
  series.forEach(function (vals, i) {
    var s = i + 1;
    var pts = grid.map(function (v, j) { return [v, vals[j]]; });
    var area = d3.area().curve(d3.curveMonotoneX)
      .x(function (d) { return x(d[0]); })
      .y0(function (d) { return stageY(s) - violinHalf(d[1]); })
      .y1(function (d) { return stageY(s) + violinHalf(d[1]); });
    inner.append("path").attr("d", area(pts)).attr("fill", stageColors[i])
      .attr("stroke", "#444").attr("stroke-width", 0.7);
    inner.append("circle").attr("cx", x(medians[i])).attr("cy", stageY(s)).attr("r", 1.5).attr("fill", "#000");
  });
  brackets.forEach(function (b) {
    var path = d3.path();
    path.moveTo(x(b[0]) - 2, stageY(b[1]));
    path.lineTo(x(b[0]), stageY(b[1]));
    path.lineTo(x(b[0]), stageY(b[2]));
    path.lineTo(x(b[0]) - 2, stageY(b[2]));
    svg.append("path").attr("d", path.toString()).attr("fill", "none").attr("stroke", "#222").attr("stroke-width", 0.7);
    svg.append("text").attr("x", x(b[0]) + b[4]).attr("y", stageY((b[1] + b[2]) / 2) + 2)
      .attr("text-anchor", "middle").attr("font-size", 7).attr("fill", "#333").text(b[3]);
  });
  p.frame();
  bottomAxis(x, 935, tickVals, function (d) { return tickVals[1] < 1 ? d.toFixed(1) : d; });
  label(titleX, 967, title, 13.7, {anchor: "middle", bold: true, font: cjk});
}
drawViolins(355, 580, [0, 6], [373, 533], [0,2,4,6], [1,3,5,7], [0,2,4,6], shannonGrid, [shannon1, shannon2, shannon3], shannonMedians,
  [[6.1,2.9,2.1,"****",9],[6.1,1.9,1.1,"ns",6],[6.75,2.9,1.1,"****",9]], "Shannon多样性指数", 473, "vh1");
drawViolins(606, 830, [0, 1.2], [625, 814.4], [0,0.4,0.8,1.2], [0.2,0.6,1], [0,0.4,0.8,1.2], simpsonGrid, [simpson1, simpson2, simpson3], simpsonMedians,
  [[1.085,2.9,2.1,"****",9],[1.085,1.9,1.1,"****",9],[1.16,2.9,1.1,"****",9]], "Simpson多样性指数", 725, "vh2");
drawViolins(858, 1080, [0, 200], [881, 1028.7], [0,100,200], [50,150,250], [0,100,200], richGrid, [rich1, rich2, rich3], richMedians,
  [[222,2.9,2.1,"****",9],[222,1.9,1.1,"****",9],[238,2.9,1.1,"****",9]], "物种数", 986, "vh3");
leftAxis(d3.scalePoint().domain(["3","2","1"]).range([808, 904]), 355, ["3","2","1"]);
label(337, 857, "Stage", 12, {anchor: "middle", rotate: true, fill: "#333"});

// ---------- I scatter ----------
// grainy filter: the outline's coverage is read as dot density, noise only gives the grain
function speckleFilter(id, color, seed, blur) {
  var f = svg.append("filter").attr("id", id).attr("color-interpolation-filters", "sRGB")
    .attr("filterUnits", "userSpaceOnUse").attr("x", 30).attr("y", 995).attr("width", 250).attr("height", 205);
  f.append("feGaussianBlur").attr("in", "SourceAlpha").attr("stdDeviation", blur).attr("result", "soft");
  f.append("feTurbulence").attr("type", "fractalNoise").attr("baseFrequency", 0.85).attr("numOctaves", 1).attr("seed", seed).attr("result", "n");
  f.append("feColorMatrix").attr("in", "n").attr("type", "matrix")
    .attr("values", "0 0 0 0 0  0 0 0 0 0  0 0 0 0 0  1.7 0 0 0 -0.35").attr("result", "grain");
  f.append("feComposite").attr("in", "soft").attr("in2", "grain").attr("operator", "arithmetic")
    .attr("k1", 0).attr("k2", 1).attr("k3", 1).attr("k4", -1).attr("result", "sum");
  f.append("feComponentTransfer").attr("in", "sum").attr("result", "mask")
    .append("feFuncA").attr("type", "linear").attr("slope", 3);
  f.append("feFlood").attr("flood-color", color).attr("result", "ink");
  f.append("feComposite").attr("in", "ink").attr("in2", "mask").attr("operator", "in");
}
(function () {
  var x = d3.scaleLinear().domain([-10, 10]).range([44.6, 244.6]);
  var y = d3.scaleLinear().domain([-5, 10]).range([1160, 1014]);
  var p = panel(41.8, 1005, 269, 1188);
  p.vgrid([-7.5,-2.5,2.5,7.5,12.5], x, "#f5f5f5", 0.7);
  p.vgrid([-10,-5,0,5,10], x, gridColor, 1);
  p.hgrid([-7.5,-2.5,2.5,7.5], y, "#f5f5f5", 0.7);
  p.hgrid([-5,0,5,10], y, gridColor, 1);
  svg.append("clipPath").attr("id", "scatterClip").append("rect").attr("x", 41.8).attr("y", 1005).attr("width", 227.2).attr("height", 183);
  var inner = p.append("g").attr("clip-path", "url(#scatterClip)");
  var line = d3.line().curve(d3.curveCatmullRomClosed).x(function (d) { return x(d[0]); }).y(function (d) { return y(d[1]); });
  [[cloudTealBase, stageColors[0], 0.55, 6], [cloudOrangeBase, stageColors[1], 0.56, 6], [cloudHalo, "#8d89c4", 0.56, 7],
   [cloudMid, stageColors[2], 0.66, 6], [cloudTeal, "#3f8f8a", 0.5, 5], [cloudOrangeA, stageColors[1], 0.66, 5],
   [cloudOrangeB, stageColors[1], 0.62, 5], [cloudOrangeC, stageColors[1], 0.62, 4], [cloudCore, stageColors[2], 0.92, 5]]
    .forEach(function (b, i) {
      speckleFilter("cloud" + i, b[1], 3 + i * 5, b[3]);
      inner.append("path").attr("d", line(b[0])).attr("fill", "#000").attr("fill-opacity", b[2])
        .attr("filter", "url(#cloud" + i + ")");
    });
  [[purpleDots, stageColors[2]], [orangeDots, stageColors[1]], [tealDots, stageColors[0]]].forEach(function (set) {
    inner.append("g").selectAll("circle").data(set[0]).join("circle")
      .attr("cx", function (d) { return x(d[0]); }).attr("cy", function (d) { return y(d[1]); })
      .attr("r", 0.7).attr("fill", set[1]).attr("fill-opacity", 0.55);
  });
  p.frame();
  bottomAxis(x, 1188, [-10,-5,0,5,10]);
  leftAxis(y, 41.8, [-5,0,5,10]);
  label(41, 997, "MDS1 (23.9%)", 14, {bold: true, fill: "#222"});
  label(19, 1097, "MDS2 (21%)", 12.4, {anchor: "middle", rotate: true, fill: "#333"});
})();

// ---------- I 2D bins ----------
var binX0 = -11.72, binWidth = 0.904, binY0 = 10.49, binHeight = 0.806;
var viridis = d3.scaleSequentialPow(d3.interpolateViridis).exponent(1.3).domain([0, 9]);
function drawBins(rows, left, right, x10m, x10p, title, id) {
  var x = d3.scaleLinear().domain([-10, 10]).range([x10m, x10p]);
  var y = d3.scaleLinear().domain([-5, 10]).range([1154, 1022]);
  var p = panel(left, 1005, right, 1188);
  p.vgrid([-7.5,-2.5,2.5,7.5,12.5], x, "#f5f5f5", 0.7);
  p.vgrid([-10,-5,0,5,10], x, gridColor, 1);
  p.hgrid([-7.5,-2.5,2.5,7.5], y, "#f5f5f5", 0.7);
  p.hgrid([-5,0,5,10], y, gridColor, 1);
  svg.append("clipPath").attr("id", id).append("rect").attr("x", left).attr("y", 1005).attr("width", right - left).attr("height", 183);
  var cells = [];
  rows.forEach(function (row, r) {
    row.split("").forEach(function (c, k) {
      if (c !== ".") cells.push({r: r, k: k, c: c});
    });
  });
  p.append("g").attr("clip-path", "url(#" + id + ")").selectAll("rect").data(cells).join("rect")
    .attr("x", function (d) { return x(binX0 + d.k * binWidth); })
    .attr("y", function (d) { return y(binY0 - d.r * binHeight); })
    .attr("width", x(binWidth) - x(0) + 0.2)
    .attr("height", y(0) - y(binHeight) + 0.2)
    .attr("fill", function (d) { return d.c === "g" ? "#d9d9d9" : viridis(+d.c); });
  p.frame();
  bottomAxis(x, 1188, [-10,-5,0,5,10]);
  leftAxis(y, left, [-5,0,5,10]);
  label(left, 997, title, 14, {bold: true, fill: "#222"});
}
drawBins(binStage1, 312.5, 540, 328, 508, "Stage 1", "bin1");
drawBins(binStage2, 584, 811, 598, 778.5, "Stage 2", "bin2");
drawBins(binStage3, 854, 1081, 869.5, 1049.6, "Stage 3", "bin3");
label(832, 1097, "MDS2", 12, {anchor: "middle", rotate: true, fill: "#333"});
label(968, 1215, "MDS1 (23.9%)", 12, {anchor: "middle", fill: "#333"});

// ---------- stage legend ----------
label(34, 1250, "Stage", 22, {bold: true, fill: "#222"});
stageNames.forEach(function (s, i) {
  label([128, 198, 271][i], 1251, s, 20, {bold: true, fill: "#222"});
  svg.append("rect").attr("x", [146, 217, 294][i]).attr("y", 1233).attr("width", 34.5).attr("height", 19).attr("fill", stageColors[i]);
});

// ---------- J ridges ----------
var densityUnit = 83.3;
function drawRidges(left, right, domain, range, grid, series, baselines, medians, ticks, minor, title, titleX, id) {
  var x = d3.scaleLinear().domain(domain).range(range);
  var p = panel(left, 1278, right, 1518);
  p.vgrid(minor, x, "#f5f5f5", 0.7);
  p.vgrid(ticks, x, gridColor, 1);
  baselines.forEach(function (b) {
    p.append("line").attr("x1", left).attr("x2", right).attr("y1", b).attr("y2", b).attr("stroke", gridColor).attr("stroke-width", 1);
  });
  svg.append("clipPath").attr("id", id).append("rect").attr("x", left).attr("y", 1278).attr("width", right - left).attr("height", 240);
  var inner = p.append("g").attr("clip-path", "url(#" + id + ")");
  series.forEach(function (vals, i) {
    var pts = grid.map(function (v, j) { return [v, vals[j]]; });
    var h = d3.scaleLinear().domain([0, 1]).range([baselines[i], baselines[i] - densityUnit]);
    var area = d3.area().curve(d3.curveMonotoneX).x(function (d) { return x(d[0]); }).y0(baselines[i]).y1(function (d) { return h(d[1]); });
    var top = d3.line().curve(d3.curveMonotoneX).x(function (d) { return x(d[0]); }).y(function (d) { return h(d[1]); });
    inner.append("path").attr("d", area(pts)).attr("fill", stageColors[i]).attr("fill-opacity", 0.93);
    inner.append("path").attr("d", top(pts)).attr("fill", "none").attr("stroke", "#3a3a3a").attr("stroke-width", 0.8);
    var j = d3.bisectLeft(grid, medians[i]);
    var t = (medians[i] - grid[j - 1]) / (grid[j] - grid[j - 1]);
    var medVal = vals[j - 1] + t * (vals[j] - vals[j - 1]);
    inner.append("line").attr("x1", x(medians[i])).attr("x2", x(medians[i]))
      .attr("y1", baselines[i]).attr("y2", h(medVal)).attr("stroke", "#222").attr("stroke-width", 1);
  });
  p.frame();
  bottomAxis(x, 1518, ticks);
  label(titleX, 1544, title, 12, {anchor: "middle", fill: "#333"});
}
drawRidges(35.7, 277.5, [-10, 10], [78, 244], mds1Grid, [mds1S1, mds1S2, mds1S3], [1361.7, 1422.3, 1482], [-0.2, -0.15, 0], [-15,-10,-5,0,5,10], [-12.5,-7.5,-2.5,2.5,7.5,12.5], "MDS1", 156, "r1");
drawRidges(304, 545.7, [-10, 10], [349, 523], mds2Grid, [mds2S1, mds2S2, mds2S3], [1355, 1417.7, 1480.7], [0, -0.1, 0.3], [-15,-10,-5,0,5,10], [-12.5,-7.5,-2.5,2.5,7.5], "MDS2", 425, "r2");
drawRidges(572.7, 814.4, [-10, 10], [572.7, 801], mds3Grid, [mds3S1, mds3S2, mds3S3], [1353, 1416.7, 1480], [0.65, -0.3, -0.03], [-10,-5,0,5,10], [-7.5,-2.5,2.5,7.5], "MDS3", 693, "r3");
drawRidges(840.6, 1081, [-5, 5], [901, 1025], mds4Grid, [mds4S1, mds4S2, mds4S3], [1357, 1419, 1481], [0.05, 0.28, 0], [-5,0,5], [-7.5,-2.5,2.5,7.5], "MDS4", 961, "r4");
leftAxis(d3.scaleOrdinal().domain(["1","2","3"]).range([1361.7, 1422.3, 1482]), 35.7, ["1","2","3"]);
label(20, 1398, "Stage", 12, {anchor: "middle", rotate: true, fill: "#333"});

// ---------- footer ----------
label(10, 1581, "T", 42, {bold: true, fill: "#1a8a80", font: '"Roboto", sans-serif'});
label(35, 1581, "alkMED", 35, {bold: true, fill: "#1a8a80", font: '"Roboto", sans-serif'}).attr("textLength", 119).attr("lengthAdjust", "spacingAndGlyphs");
label(455, 1580, "Zhai J, Li Y, Liu J, et al. Cell Rep Med. Published online August 10, 2026. doi:10.1016/j.xcrm.2026.102974", 12.95, {fill: "#222", font: '"Open Sans", sans-serif'});
</script>
</body>
</html>
